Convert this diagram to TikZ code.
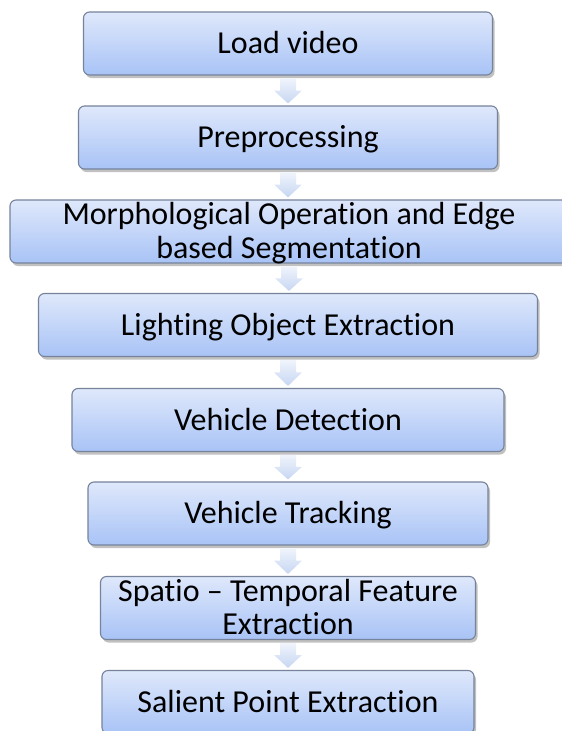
\documentclass[tikz,border=0pt]{standalone}
\usepackage{fontspec}
\setmainfont{Carlito}[Ligatures=NoCommon]
\usetikzlibrary{calc,shadows}
\definecolor{boxtop}{HTML}{DFE8FB}
\definecolor{boxbot}{HTML}{A8C3F6}
\definecolor{boxline}{HTML}{76839A}
\definecolor{arrtop}{HTML}{F0F4FC}
\definecolor{arrbot}{HTML}{C6D6F2}
\tikzset{
  stepbox/.style={draw=boxline,line width=1.1pt,rounded corners=6pt,
    top color=boxtop,bottom color=boxbot,minimum height=63pt,inner sep=0pt,
    align=center,text height=20pt,text depth=0pt,
    font=\fontsize{32}{33.5}\selectfont,
    drop shadow={shadow xshift=2pt,shadow yshift=-3pt,opacity=.35,fill=black!70}},
  twoline/.style={text height=53.5pt},
  flowarrow/.style={top color=arrtop,bottom color=arrbot,draw=none}
}
\begin{document}
\begin{tikzpicture}[x=1pt,y=-1pt]
\useasboundingbox (0,0) rectangle (562,731);
\node[stepbox,minimum width=409pt] (load) at (288,43.5) {Load video};
\node[stepbox,minimum width=419pt] (prep) at (288,137.5) {Preprocessing};
\node[stepbox,twoline,minimum width=558pt] (morph) at (289,231.5)
  {Morphological Operation and Edge\\based Segmentation};
\node[stepbox,minimum width=499pt] (light) at (288,325) {Lighting Object Extraction};
\node[stepbox,minimum width=432pt] (detect) at (288,420) {Vehicle Detection};
\node[stepbox,minimum width=400pt] (track) at (288,513.5) {Vehicle Tracking};
\node[stepbox,twoline,minimum width=375pt] (feat) at (288,608)
  {Spatio -- Temporal Feature\\Extraction};
\node[stepbox,minimum width=372pt] (salient) at (288,702) {Salient Point Extraction};
% block arrows between the steps
\foreach \a/\b in {load/prep,prep/morph,morph/light,light/detect,
  detect/track,track/feat,feat/salient}
  \path[flowarrow] let \p1=($(\a.south)$), \p2=($(\b.north)$),
    \n1={0.4*(\y1-\y2)} in
    (\x1-8pt,\y1-3pt) -- (\x1+8pt,\y1-3pt) -- (\x1+8pt,\y1-3pt-\n1)
    -- (\x1+14pt,\y1-3pt-\n1) -- (\x1,\y2+2pt) -- (\x1-14pt,\y1-3pt-\n1)
    -- (\x1-8pt,\y1-3pt-\n1) -- cycle;
\end{tikzpicture}
\end{document}
